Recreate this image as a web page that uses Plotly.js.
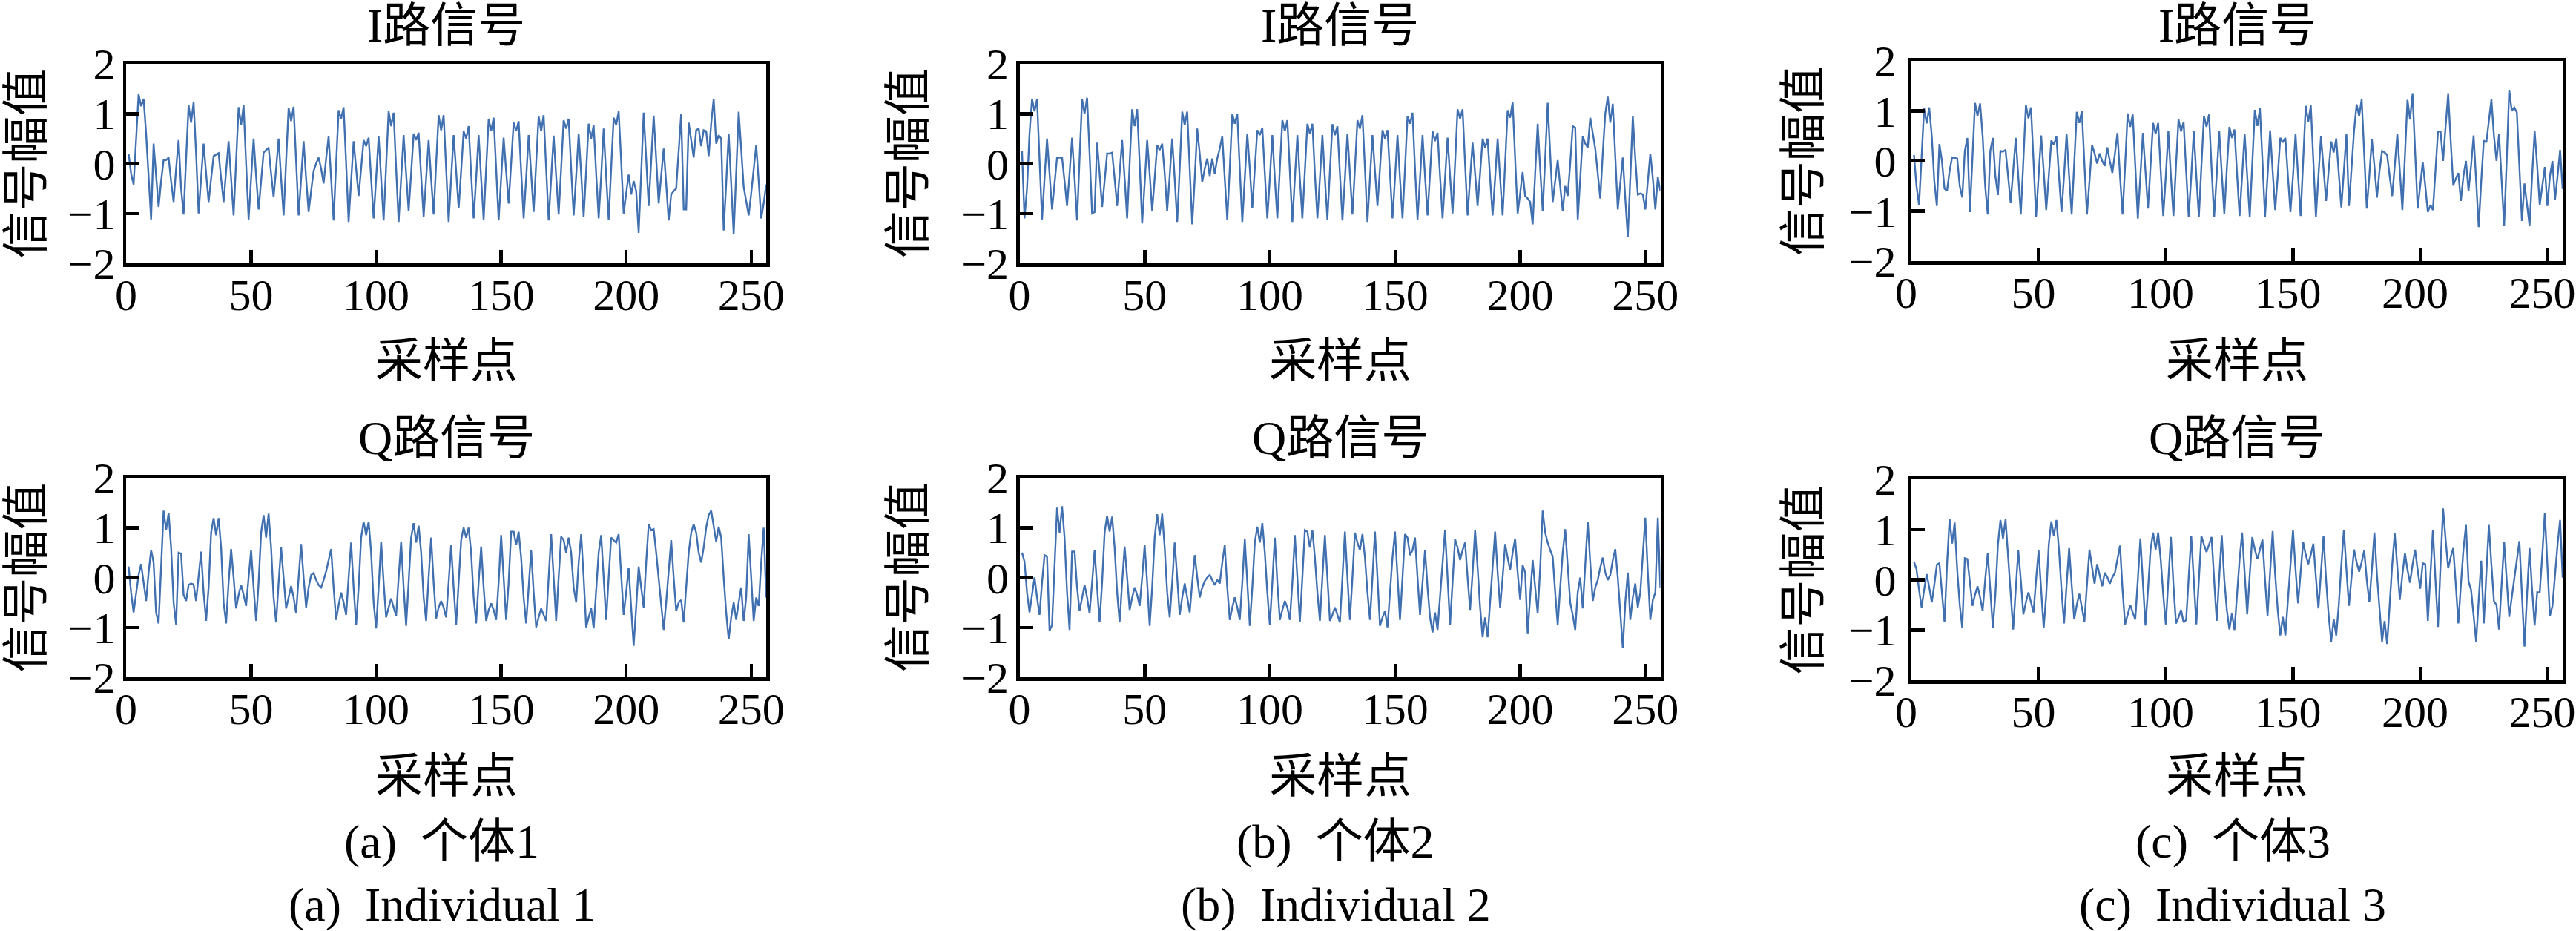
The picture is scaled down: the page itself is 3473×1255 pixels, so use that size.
<!DOCTYPE html>
<html>
<head>
<meta charset="utf-8">
<script src="https://cdn.plot.ly/plotly-3.0.1.min.js"></script>
<style>
  html, body { margin: 0; padding: 0; background: #ffffff; }
  #chart { width: 3473px; height: 1255px; }
</style>
</head>
<body>
<div id="chart"></div>
<script>
const W = 3473;
const H = 1255;

const xTicks = [0, 50, 100, 150, 200, 250];
const yTicks = [-2, -1, 0, 1, 2];

// sample index 1..256
const sampleIdx = Array.from({ length: 256 }, (_, i) => i + 1);

// individual 1
const iSignal1 = [
  0.2, -0.2, -0.42, 0.5, 1.39, 1.15, 1.3, 0.6, -0.3, -1.12,
  0.4, -0.3, -0.87, -0.35, 0.07, 0.07, 0.12, -0.35, -0.77, -0.1,
  0.47, -0.5, -1.02, 0.1, 1.17, 0.82, 1.23, 0.2, -1.0, -0.3,
  0.4, -0.2, -0.77, -0.3, 0.15, 0.18, 0.21, -0.3, -0.77, -0.15,
  0.45, -0.3, -1.04, 0.05, 1.13, 0.77, 1.17, 0.0, -1.12, -0.3,
  0.5, -0.25, -0.92, -0.35, 0.22, 0.27, 0.32, -0.2, -0.67, -0.1,
  0.5, -0.3, -1.04, 0.05, 1.12, 0.85, 1.14, 0.05, -1.04, -0.3,
  0.45, -0.3, -0.97, -0.55, -0.15, 0.0, 0.12, -0.1, -0.4, 0.1,
  0.55, -0.3, -1.14, 0.0, 1.07, 0.9, 1.13, 0.0, -1.17, -0.35,
  0.45, -0.1, -0.65, -0.1, 0.47, 0.35, 0.52, -0.3, -1.1, -0.3,
  0.55, -0.3, -1.14, -0.05, 1.05, 0.75, 1.02, -0.1, -1.17, -0.3,
  0.57, -0.2, -0.95, -0.2, 0.6, 0.47, 0.62, -0.25, -1.07, -0.3,
  0.47, -0.3, -1.02, 0.0, 0.97, 0.67, 0.97, -0.1, -1.17, -0.3,
  0.57, -0.15, -0.9, -0.15, 0.65, 0.5, 0.75, -0.2, -1.1, -0.3,
  0.57, -0.3, -1.12, -0.1, 0.9, 0.65, 0.92, -0.1, -1.14, -0.3,
  0.52, -0.15, -0.8, 0.0, 0.82, 0.65, 0.85, -0.15, -1.1, -0.3,
  0.57, -0.2, -0.97, 0.0, 0.95, 0.65, 0.97, -0.1, -1.14, -0.3,
  0.56, -0.25, -1.02, -0.1, 0.87, 0.7, 0.9, -0.1, -1.04, -0.25,
  0.6, -0.2, -1.07, -0.15, 0.8, 0.5, 0.77, -0.2, -1.1, -0.25,
  0.7, -0.25, -1.12, -0.1, 0.92, 0.77, 1.05, 0.05, -1.0, -0.6,
  -0.22, -0.62, -0.35, -0.55, -1.39, -0.2, 1.02, 0.1, -0.85, 0.05,
  0.96, 0.1, -0.8, -0.25, 0.3, -0.4, -1.14, -0.62, -0.55, -0.5,
  0.25, 1.0, -0.92, -0.92, 0.82, 0.45, 0.12, 0.67, 0.7, 0.35,
  0.67, 0.65, 0.15, 0.8, 1.3, 0.4, 0.57, 0.5, -1.34, -0.4,
  0.6, -0.4, -1.42, -0.2, 1.04, 0.3, -0.47, -0.75, -1.04, -0.6,
  -0.1, 0.37, -0.35, -1.1, -0.8, -0.42
];
const qSignal1 = [
  0.22, -0.3, -0.7, -0.3, 0.05, 0.27, -0.1, -0.47, 0.1, 0.55,
  0.3, -0.7, -0.92, 0.3, 1.34, 0.95, 1.3, 0.6, -0.5, -0.95,
  0.5, 0.48, -0.35, -0.47, -0.15, -0.12, -0.14, -0.47, 0.0, 0.52,
  -0.3, -0.87, -0.2, 0.9, 1.19, 0.85, 1.19, 0.6, -0.5, -0.92,
  -0.1, 0.57, 0.0, -0.62, -0.35, -0.15, -0.35, -0.57, 0.0, 0.55,
  -0.2, -0.87, -0.1, 0.9, 1.25, 0.8, 1.28, 0.6, -0.4, -0.9,
  -0.1, 0.6, 0.0, -0.62, -0.4, -0.17, -0.4, -0.72, 0.0, 0.67,
  0.0, -0.6, -0.2, 0.05, 0.09, -0.05, -0.15, -0.2, -0.05, 0.12,
  0.35, 0.57, -0.2, -0.85, -0.55, -0.3, -0.5, -0.75, 0.0, 0.7,
  -0.2, -0.95, -0.2, 0.8, 1.12, 0.85, 1.12, 0.5, -0.5, -1.02,
  -0.2, 0.72, -0.1, -0.8, -0.6, -0.42, -0.6, -0.77, 0.0, 0.72,
  -0.2, -0.97, -0.1, 0.8, 1.09, 0.7, 1.04, 0.5, -0.4, -0.87,
  0.0, 0.8, -0.1, -0.82, -0.6, -0.47, -0.6, -0.8, -0.1, 0.65,
  -0.2, -0.95, -0.1, 0.75, 1.0, 0.8, 1.0, 0.5, -0.4, -0.92,
  -0.1, 0.62, -0.2, -0.87, -0.65, -0.52, -0.65, -0.85, -0.1, 0.85,
  0.0, -0.85, -0.1, 0.92, 0.92, 0.65, 0.92, 0.4, -0.4, -0.92,
  -0.2, 0.55, -0.3, -1.0, -0.8, -0.62, -0.75, -0.87, 0.0, 0.87,
  0.0, -0.87, 0.0, 0.82, 0.75, 0.5, 0.8, 0.5, -0.2, -0.5,
  0.3, 0.87, 0.0, -1.0, -0.8, -0.62, -1.02, -0.2, 0.5, 0.85,
  0.0, -0.85, 0.0, 0.8, 0.75, 0.7, 0.87, 0.1, -0.75, -0.3,
  0.2, -0.6, -1.37, -0.6, 0.22, -0.2, -0.6, 0.3, 1.07, 0.95,
  0.97, 0.5, 0.0, -0.5, -1.05, -0.5, 0.2, 0.75, 0.0, -0.67,
  -0.5, -0.45, -0.9, -0.2, 0.5, 0.9, 1.07, 0.9, 0.5, 0.3,
  0.6, 1.0, 1.25, 1.34, 1.0, 0.72, 1.02, 0.8, 0.0, -0.7,
  -1.24, -0.8, -0.5, -0.85, -0.5, -0.2, -0.87, -0.4, 0.87, -0.1,
  -0.87, -0.4, -0.57, 0.3, 1.0, -0.4
];

// individual 2
const iSignal2 = [
  0.25, -1.1, -0.5, 0.6, 1.3, 1.05, 1.29, 0.2, -1.12, -0.3,
  0.5, -0.2, -0.92, -0.4, 0.12, 0.12, 0.12, -0.35, -0.85, -0.2,
  0.52, -0.3, -1.14, 0.1, 1.29, 1.0, 1.32, 0.2, -1.0, -0.97,
  0.42, -0.2, -0.87, -0.35, 0.2, 0.2, 0.22, -0.3, -0.85, -0.2,
  0.47, -0.3, -1.1, 0.0, 1.09, 0.75, 1.09, 0.0, -1.2, -0.4,
  0.47, -0.2, -0.95, -0.3, 0.37, 0.27, 0.4, -0.2, -0.95, -0.25,
  0.5, -0.3, -1.17, -0.1, 1.04, 0.77, 1.04, -0.1, -1.22, -0.3,
  0.7, 0.2, -0.37, -0.1, 0.1, -0.25, 0.1, -0.2, 0.1, 0.3,
  0.55, -0.3, -1.12, -0.1, 1.0, 0.8, 1.0, -0.1, -1.17, -0.3,
  0.6, -0.1, -0.9, -0.1, 0.67, 0.57, 0.72, -0.2, -1.1, -0.3,
  0.57, -0.3, -1.1, -0.1, 0.87, 0.65, 0.87, -0.15, -1.17, -0.3,
  0.57, -0.3, -1.1, -0.15, 0.8, 0.6, 0.8, -0.2, -1.1, -0.3,
  0.57, -0.3, -1.12, -0.15, 0.79, 0.57, 0.75, -0.2, -1.14, -0.3,
  0.6, -0.2, -1.02, -0.1, 0.87, 0.7, 0.97, -0.1, -1.17, -0.3,
  0.57, -0.15, -0.85, -0.1, 0.67, 0.5, 0.67, -0.2, -1.1, -0.3,
  0.57, -0.3, -1.1, -0.1, 0.95, 0.8, 1.02, -0.1, -1.12, -0.3,
  0.57, -0.25, -1.04, -0.2, 0.65, 0.45, 0.62, -0.25, -1.1, -0.3,
  0.52, -0.25, -1.0, 0.0, 1.09, 0.9, 1.09, 0.0, -1.04, -0.3,
  0.42, -0.2, -0.85, -0.2, 0.5, 0.32, 0.5, -0.3, -1.04, -0.3,
  0.5, -0.3, -1.04, 0.0, 1.07, 0.92, 1.23, 0.1, -1.0, -0.6,
  -0.17, -0.65, -0.7, -0.77, -1.22, -0.2, 0.8, -0.1, -0.95, 0.1,
  1.22, 0.2, -0.77, -0.35, 0.07, -0.45, -0.95, -0.45, -0.65, 0.0,
  0.75, 0.72, -1.12, -0.3, 0.55, 0.4, 0.32, 0.92, 0.6, 0.3,
  -0.2, -0.7, 0.2, 1.0, 1.34, 0.82, 1.2, 0.1, -0.92, -0.4,
  0.12, -0.7, -1.47, -0.3, 0.95, 0.1, -0.62, -0.6, -0.62, -0.92,
  -0.3, 0.2, -0.3, -0.92, -0.27, -0.55
];
const qSignal2 = [
  0.5, 0.32, -0.3, -0.7, -0.35, 0.0, -0.4, -0.75, -0.1, 0.45,
  0.42, -1.07, -0.95, 0.3, 1.4, 0.9, 1.43, 0.8, -0.3, -1.05,
  0.52, 0.52, -0.2, -0.67, -0.4, -0.15, -0.4, -0.72, -0.1, 0.55,
  -0.2, -0.9, -0.1, 0.9, 1.24, 0.92, 1.22, 0.6, -0.3, -0.9,
  -0.1, 0.62, 0.0, -0.65, -0.4, -0.2, -0.35, -0.57, 0.0, 0.65,
  -0.1, -0.97, -0.2, 0.8, 1.27, 0.85, 1.28, 0.6, -0.3, -0.8,
  -0.1, 0.7, 0.0, -0.75, -0.4, -0.12, -0.4, -0.7, -0.1, 0.45,
  0.0, -0.4, -0.2, -0.07, 0.0, 0.05, -0.05, -0.15, -0.05, -0.12,
  0.3, 0.65, -0.2, -0.85, -0.6, -0.4, -0.6, -0.85, -0.1, 0.77,
  -0.1, -0.97, -0.2, 0.7, 1.02, 0.7, 1.09, 0.5, -0.3, -0.95,
  -0.1, 0.8, -0.1, -0.85, -0.65, -0.47, -0.6, -0.85, -0.1, 0.85,
  0.0, -0.9, 0.0, 0.95, 0.92, 0.6, 0.95, 0.4, -0.3, -0.87,
  0.0, 0.85, 0.0, -0.87, -0.75, -0.6, -0.75, -0.9, 0.0, 0.92,
  0.0, -0.85, 0.0, 0.9, 0.7, 0.55, 0.87, 0.4, -0.3, -0.85,
  0.0, 0.92, 0.0, -0.97, -0.8, -0.67, -1.0, -0.3, 0.4, 0.92,
  0.0, -0.85, 0.0, 0.87, 0.8, 0.45, 0.55, 0.8, 0.0, -0.75,
  -0.1, 0.55, -0.2, -0.8, -1.1, -0.7, -1.05, -0.4, 0.3, 0.95,
  0.0, -0.95, -0.1, 0.77, 0.6, 0.35, 0.55, 0.7, 0.0, -0.65,
  0.1, 0.95, 0.2, -0.6, -1.2, -0.8, -1.2, -0.5, 0.3, 0.92,
  0.1, -0.6, 0.0, 0.67, 0.4, 0.15, 0.5, 0.78, 0.1, -0.45,
  0.25, 0.1, -1.12, -0.4, 0.35, -0.2, -0.72, 0.2, 1.34, 0.9,
  0.7, 0.55, 0.42, -0.3, -0.95, -0.2, 0.5, 0.97, 0.2, -0.5,
  -0.75, -1.05, -0.3, 0.0, -0.62, 0.3, 1.12, 0.3, -0.47, -0.2,
  -0.05, 0.2, 0.4, 0.1, -0.05, 0.05, 0.35, 0.57, 0.0, -0.7,
  -1.42, -0.5, 0.1, -0.85, -0.4, -0.12, -0.6, -0.3, 0.5, 1.2,
  0.1, -0.85, -0.45, -0.3, 1.2, -0.2
];

// individual 3
const iSignal3 = [
  0.12, -0.5, -0.88, 0.2, 1.05, 0.75, 1.07, 0.5, -0.4, -0.9,
  0.34, 0.0, -0.55, -0.6, -0.2, 0.07, 0.06, 0.05, -0.5, -0.73,
  0.2, 0.46, -1.02, 0.2, 1.16, 0.9, 1.15, 0.5, -0.5, -1.07,
  0.2, 0.46, -0.3, -0.68, 0.2, 0.19, 0.22, -0.3, -0.83, -0.2,
  0.46, -0.3, -1.07, 0.0, 1.12, 0.85, 1.07, 0.0, -1.12, -0.3,
  0.51, -0.2, -0.98, -0.3, 0.41, 0.32, 0.49, -0.3, -1.02, -0.3,
  0.54, -0.3, -1.07, -0.05, 0.98, 0.76, 1.0, -0.05, -1.07, -0.4,
  0.32, 0.15, -0.05, 0.15, 0.0, -0.1, 0.27, 0.0, -0.24, 0.15,
  0.56, -0.3, -1.07, -0.1, 0.95, 0.68, 0.93, -0.1, -1.15, -0.3,
  0.56, -0.2, -0.95, -0.1, 0.76, 0.54, 0.76, -0.2, -1.1, -0.3,
  0.59, -0.3, -1.1, -0.1, 0.83, 0.59, 0.78, -0.2, -1.12, -0.3,
  0.59, -0.3, -1.12, -0.1, 0.9, 0.68, 0.93, -0.15, -1.12, -0.3,
  0.59, -0.25, -1.05, -0.15, 0.68, 0.46, 0.63, -0.25, -1.1, -0.3,
  0.54, -0.3, -1.12, -0.05, 1.02, 0.7, 1.05, 0.0, -1.12, -0.3,
  0.61, -0.2, -0.98, -0.3, 0.46, 0.37, 0.46, -0.3, -1.02, -0.3,
  0.54, -0.3, -1.1, 0.0, 1.1, 0.78, 1.11, 0.0, -1.12, -0.3,
  0.49, -0.15, -0.8, -0.2, 0.39, 0.17, 0.45, -0.25, -0.93, -0.2,
  0.54, -0.9, -0.2, 0.6, 1.13, 0.9, 1.23, 0.2, -0.95, -0.3,
  0.44, -0.1, -0.73, -0.2, 0.2, 0.17, 0.12, -0.3, -0.7, -0.1,
  0.54, -0.2, -0.98, 0.1, 1.22, 0.83, 1.34, 0.2, -0.95, -0.5,
  -0.02, -0.5, -1.02, -0.88, -0.98, -0.2, 0.59, 0.59, 0.0, 0.7,
  1.34, 0.4, -0.49, -0.35, -0.24, -0.8, -0.3, 0.0, -0.6, -0.1,
  0.51, -0.4, -1.32, -0.4, 0.41, 0.37, 0.8, 1.23, 0.5, 0.0,
  0.54, -0.3, -1.29, 0.0, 1.42, 1.0, 1.07, 0.97, -0.1, -1.2,
  -0.45, -0.85, -1.29, -0.3, 0.59, -0.1, -0.88, -0.5, -0.12, -0.9,
  -0.3, 0.0, -0.78, -0.3, 0.22, -0.56
];
const qSignal3 = [
  0.36, 0.21, -0.2, -0.55, -0.2, 0.11, -0.15, -0.45, -0.1, 0.3,
  0.33, -0.3, -0.84, 0.3, 1.21, 0.72, 1.14, 0.2, -0.5, -0.96,
  0.43, 0.41, -0.1, -0.52, -0.3, -0.13, -0.35, -0.62, 0.0, 0.53,
  -0.2, -0.96, -0.3, 0.7, 1.19, 0.82, 1.2, 0.5, -0.3, -0.99,
  -0.2, 0.58, 0.0, -0.69, -0.45, -0.25, -0.45, -0.65, 0.0, 0.58,
  -0.2, -0.96, -0.3, 0.7, 1.16, 0.87, 1.19, 0.6, -0.2, -0.87,
  -0.1, 0.63, -0.1, -0.79, -0.5, -0.28, -0.55, -0.84, -0.1, 0.6,
  0.25, -0.08, 0.31, 0.1, -0.13, 0.14, 0.05, -0.08, 0.05, 0.14,
  0.4, 0.68, -0.2, -0.89, -0.7, -0.5, -0.65, -0.79, 0.0, 0.82,
  -0.05, -0.91, -0.2, 0.6, 0.94, 0.6, 0.94, 0.4, -0.3, -0.89,
  0.0, 0.85, -0.1, -0.87, -0.75, -0.6, -0.85, -0.8, 0.05, 0.87,
  0.0, -0.89, 0.0, 0.87, 0.7, 0.55, 0.7, 0.85, 0.0, -0.82,
  0.05, 0.89, 0.0, -0.6, -0.99, -0.67, -1.0, -0.3, 0.4, 0.94,
  0.1, -0.69, 0.1, 0.85, 0.6, 0.41, 0.6, 0.8, 0.0, -0.72,
  0.15, 0.97, 0.1, -0.6, -1.11, -0.74, -1.11, -0.4, 0.3, 0.99,
  0.2, -0.47, 0.15, 0.75, 0.5, 0.31, 0.5, 0.72, 0.05, -0.57,
  0.15, 0.87, 0.0, -0.7, -1.23, -0.79, -1.11, -0.5, 0.3, 0.99,
  0.2, -0.52, 0.05, 0.6, 0.35, 0.16, 0.35, 0.58, 0.0, -0.45,
  0.2, 0.94, 0.1, -0.6, -1.23, -0.82, -1.28, -0.5, 0.3, 0.92,
  0.2, -0.4, 0.1, 0.53, 0.2, -0.06, 0.3, 0.6, 0.2, -0.18,
  0.33, 0.31, -0.82, 0.1, 0.99, 0.0, -0.94, 0.3, 1.42, 0.8,
  0.23, 0.45, 0.63, -0.1, -0.87, -0.1, 0.6, 1.09, -0.03, -0.2,
  -0.7, -1.23, -0.4, 0.38, -0.87, 0.1, 1.09, 0.3, -0.43, -0.5,
  -0.99, -0.1, 0.75, 0.0, -0.74, -0.35, 0.01, 0.4, 0.77, -0.3,
  -1.33, -0.3, 0.63, -0.2, -0.91, -0.25, -0.25, 0.5, 1.33, 0.3,
  -0.72, -0.52, 0.1, 0.7, 1.19, 0.04
];

const panelTitles = ["I路信号", "Q路信号"];
const xAxisTitle = "采样点";
const yAxisTitle = "信号幅值";
const captionsCn = ["(a)\u00a0\u00a0个体1", "(b)\u00a0\u00a0个体2", "(c)\u00a0\u00a0个体3"];
const captionsEn = ["(a)\u00a0\u00a0Individual 1", "(b)\u00a0\u00a0Individual 2", "(c)\u00a0\u00a0Individual 3"];

const LINE_COLOR = "#4170b0";
const SERIF = "Liberation Serif, 'Times New Roman', 'Noto Sans CJK SC', serif";

// plot boxes in pixels: [left, right] per column, [top, bottom] per row/column
const colPx = [[170, 1033], [1374.5, 2238.5], [2577, 3455]];
const rowPx = [
  [[86, 355], [644, 913]],
  [[86, 355], [644, 913]],
  [[82, 352], [646, 917]]
];
const yTitleGap = [135, 150, 146];
// the last column sits against the right edge, pull its x labels in a bit
const xLabelShift = [0, 0, -7];
const yLabelStandoff = [-2, -2, 4];

const signals = [
  [iSignal1, qSignal1],
  [iSignal2, qSignal2],
  [iSignal3, qSignal3]
];

const px2x = (v) => v / W;
const px2y = (v) => 1 - v / H;

const data = [];
const layout = {
  width: W,
  height: H,
  margin: { t: 0, r: 0, b: 0, l: 0 },
  paper_bgcolor: "#ffffff",
  plot_bgcolor: "#ffffff",
  showlegend: false,
  font: { family: SERIF, color: "#000000", size: 64 },
  annotations: []
};

const axisBase = {
  showline: true,
  linecolor: "#000000",
  linewidth: 4.5,
  mirror: true,
  ticks: "inside",
  ticklen: 18,
  tickwidth: 4.5,
  tickcolor: "#000000",
  showgrid: false,
  zeroline: false,
  fixedrange: true,
  ticklabeloverflow: "allow",
  tickfont: { family: SERIF, size: 60, color: "#000000" }
};

const textAnn = (text, x, y, extra = {}) => ({
  text,
  xref: "paper", yref: "paper",
  x: px2x(x), y: px2y(y),
  xanchor: "center", yanchor: "middle",
  showarrow: false,
  font: { family: SERIF, size: 64, color: "#000000" },
  ...extra
});

let k = 0;
for (let c = 0; c < 3; c += 1) {
  for (let r = 0; r < 2; r += 1) {
    k += 1;
    const suffix = k === 1 ? "" : String(k);
    const [left, right] = colPx[c];
    const [top, bottom] = rowPx[c][r];

    data.push({
      x: sampleIdx,
      y: signals[c][r],
      type: "scatter",
      mode: "lines",
      line: { color: LINE_COLOR, width: 2.4 },
      xaxis: "x" + suffix,
      yaxis: "y" + suffix,
      hoverinfo: "skip"
    });

    layout["xaxis" + suffix] = {
      ...axisBase,
      domain: [px2x(left), px2x(right)],
      anchor: "y" + suffix,
      range: [0, 256],
      tickmode: "array",
      tickvals: xTicks,
      ticktext: xTicks.map(String),
      ticklabelstandoff: -14,
      ticklabelshift: xLabelShift[c]
    };
    layout["yaxis" + suffix] = {
      ...axisBase,
      domain: [px2y(bottom), px2y(top)],
      anchor: "x" + suffix,
      range: [-2, 2],
      tickmode: "array",
      tickvals: yTicks,
      ticklabelstandoff: yLabelStandoff[c]
    };

    const cx = (left + right) / 2;
    const cy = (top + bottom) / 2;

    layout.annotations.push(textAnn(panelTitles[r], cx, r === 0 ? 35 : 591));
    layout.annotations.push(textAnn(xAxisTitle, cx, r === 0 ? 487 : 1046));
    layout.annotations.push(textAnn(yAxisTitle, left - yTitleGap[c], cy, { textangle: -90 }));
  }

  const capX = (colPx[c][0] + colPx[c][1]) / 2 - 6;
  layout.annotations.push(textAnn(captionsCn[c], capX, 1134));
  layout.annotations.push(textAnn(captionsEn[c], capX, 1219));
}

Plotly.newPlot("chart", data, layout, { displayModeBar: false, staticPlot: true });
</script>
</body>
</html>
